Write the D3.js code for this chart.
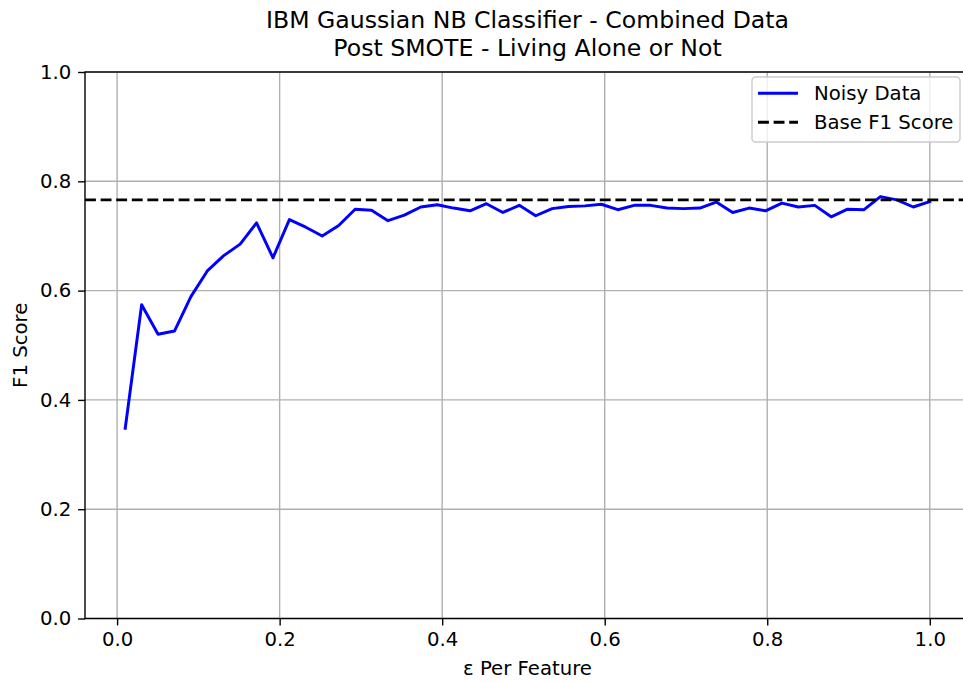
<!DOCTYPE html>
<html>
<head>
<meta charset="utf-8">
<script src="https://cdn.jsdelivr.net/npm/d3@7"></script>
<style>
  html, body { margin: 0; padding: 0; background: #fff; }
  svg { display: block; font-family: "DejaVu Sans", sans-serif; }
</style>
</head>
<body>
<svg id="chart" width="963" height="682"></svg>
<script>
// Epsilon per feature (x) and F1 score of the noisy-data classifier (y)
const epsilon = [
  0.01, 0.0302, 0.0504, 0.0706, 0.0908, 0.1110, 0.1312, 0.1514, 0.1716, 0.1918,
  0.2120, 0.2322, 0.2524, 0.2727, 0.2929, 0.3131, 0.3333, 0.3535, 0.3737, 0.3939,
  0.4141, 0.4343, 0.4545, 0.4747, 0.4949, 0.5151, 0.5353, 0.5555, 0.5757, 0.5959,
  0.6161, 0.6363, 0.6565, 0.6767, 0.6969, 0.7171, 0.7373, 0.7575, 0.7777, 0.7979,
  0.8181, 0.8383, 0.8585, 0.8787, 0.8989, 0.9191, 0.9393, 0.9595, 0.9797, 1.0
];
const noisyF1 = [
  0.348, 0.574, 0.520, 0.526, 0.589, 0.636, 0.664, 0.685, 0.724, 0.660,
  0.730, 0.716, 0.700, 0.719, 0.749, 0.747, 0.728, 0.738, 0.753, 0.757,
  0.751, 0.746, 0.759, 0.743, 0.756, 0.737, 0.750, 0.754, 0.755, 0.758,
  0.748, 0.756, 0.756, 0.751, 0.750, 0.751, 0.762, 0.743, 0.751, 0.746,
  0.760, 0.753, 0.756, 0.735, 0.749, 0.748, 0.772, 0.766, 0.753, 0.763
];
const baseF1 = 0.766;

const xTicks = [0.0, 0.2, 0.4, 0.6, 0.8, 1.0];
const yTicks = [0.0, 0.2, 0.4, 0.6, 0.8, 1.0];
const titleLines = ["IBM Gaussian NB Classifier - Combined Data", "Post SMOTE - Living Alone or Not"];
const xLabel = "ε Per Feature";
const yLabel = "F1 Score";
const legendItems = [
  { label: "Noisy Data", color: "#0000ff", dash: null },
  { label: "Base F1 Score", color: "#000000", dash: "10.9,4.7" }
];

const svg = d3.select("#chart");
const plot = { left: 85, right: 970, top: 72, bottom: 618.5 };
const fontSize = 19.7;

// Matplotlib-style 5% padding on the x range
const xMin = d3.min(epsilon), xMax = d3.max(epsilon);
const pad = (xMax - xMin) * 0.05;
const x = d3.scaleLinear().domain([xMin - pad, xMax + pad]).range([plot.left, plot.right]);
const y = d3.scaleLinear().domain([0, 1]).range([plot.bottom, plot.top]);

svg.append("defs").append("clipPath").attr("id", "plotClip")
  .append("rect")
  .attr("x", plot.left).attr("y", plot.top)
  .attr("width", plot.right - plot.left).attr("height", plot.bottom - plot.top);

// Grid lines
const grid = svg.append("g").attr("stroke", "#b0b0b0").attr("stroke-width", 1.4);
grid.selectAll("line.gx").data(xTicks).join("line")
  .attr("x1", d => x(d)).attr("x2", d => x(d))
  .attr("y1", plot.top).attr("y2", plot.bottom);
grid.selectAll("line.gy").data(yTicks).join("line")
  .attr("x1", plot.left).attr("x2", plot.right)
  .attr("y1", d => y(d)).attr("y2", d => y(d));

// Data lines
const lines = svg.append("g").attr("clip-path", "url(#plotClip)");
const line = d3.line().x((d, i) => x(epsilon[i])).y(d => y(d));
lines.append("path")
  .datum(noisyF1)
  .attr("d", line)
  .attr("fill", "none")
  .attr("stroke", "#0000ff")
  .attr("stroke-width", 2.95)
  .attr("stroke-linejoin", "round")
  .attr("stroke-linecap", "square");

lines.append("line")
  .attr("x1", plot.left).attr("x2", plot.right)
  .attr("y1", y(baseF1)).attr("y2", y(baseF1))
  .attr("stroke", "#000")
  .attr("stroke-width", 2.95)
  .attr("stroke-dasharray", "10.9,4.7");

// Axes
const xAxis = d3.axisBottom(x).tickValues(xTicks).tickFormat(d3.format(".1f"))
  .tickSize(6.9).tickPadding(6.5).tickSizeOuter(0);
const yAxis = d3.axisLeft(y).tickValues(yTicks).tickFormat(d3.format(".1f"))
  .tickSize(6.9).tickPadding(6.9).tickSizeOuter(0);

const gx = svg.append("g").attr("transform", `translate(0,${plot.bottom})`).call(xAxis);
const gy = svg.append("g").attr("transform", `translate(${plot.left},0)`).call(yAxis);
[gx, gy].forEach(g => {
  g.select(".domain").remove();
  g.selectAll(".tick line").attr("stroke", "#000").attr("stroke-width", 1.4);
  g.selectAll(".tick text").attr("fill", "#000")
    .attr("font-family", "DejaVu Sans").attr("font-size", fontSize);
});

// Spines (left, bottom, top; the right one falls just outside the canvas)
const spines = svg.append("g").attr("stroke", "#000").attr("stroke-width", 1.4)
  .attr("fill", "none");
spines.append("rect")
  .attr("x", plot.left).attr("y", plot.top)
  .attr("width", plot.right - plot.left).attr("height", plot.bottom - plot.top);

// Title
svg.append("g").selectAll("text").data(titleLines).join("text")
  .attr("x", (plot.left + plot.right) / 2)
  .attr("y", (d, i) => 28 + i * 28.4)
  .attr("text-anchor", "middle")
  .attr("font-size", 23.6)
  .attr("fill", "#000")
  .text(d => d);

// Axis labels
svg.append("text")
  .attr("x", (plot.left + plot.right) / 2)
  .attr("y", 675)
  .attr("text-anchor", "middle")
  .attr("font-size", fontSize)
  .text(xLabel);
svg.append("text")
  .attr("transform", `translate(27,${(plot.top + plot.bottom) / 2}) rotate(-90)`)
  .attr("text-anchor", "middle")
  .attr("font-size", fontSize)
  .text(yLabel);

// Legend
const legend = svg.append("g");
legend.append("rect")
  .attr("x", 752).attr("y", 77)
  .attr("width", 208).attr("height", 65)
  .attr("rx", 3.5)
  .attr("fill", "#fff").attr("fill-opacity", 0.8)
  .attr("stroke", "#cccccc").attr("stroke-width", 1.4);
const rows = legend.selectAll("g.row").data(legendItems).join("g")
  .attr("transform", (d, i) => `translate(0,${93.3 + i * 29})`);
rows.append("line")
  .attr("x1", 758).attr("x2", 798)
  .attr("y1", 0).attr("y2", 0)
  .attr("stroke", d => d.color)
  .attr("stroke-width", 2.95)
  .attr("stroke-dasharray", d => d.dash);
rows.append("text")
  .attr("x", 814).attr("y", 7)
  .attr("font-size", fontSize)
  .attr("fill", "#000")
  .text(d => d.label);
</script>
</body>
</html>
